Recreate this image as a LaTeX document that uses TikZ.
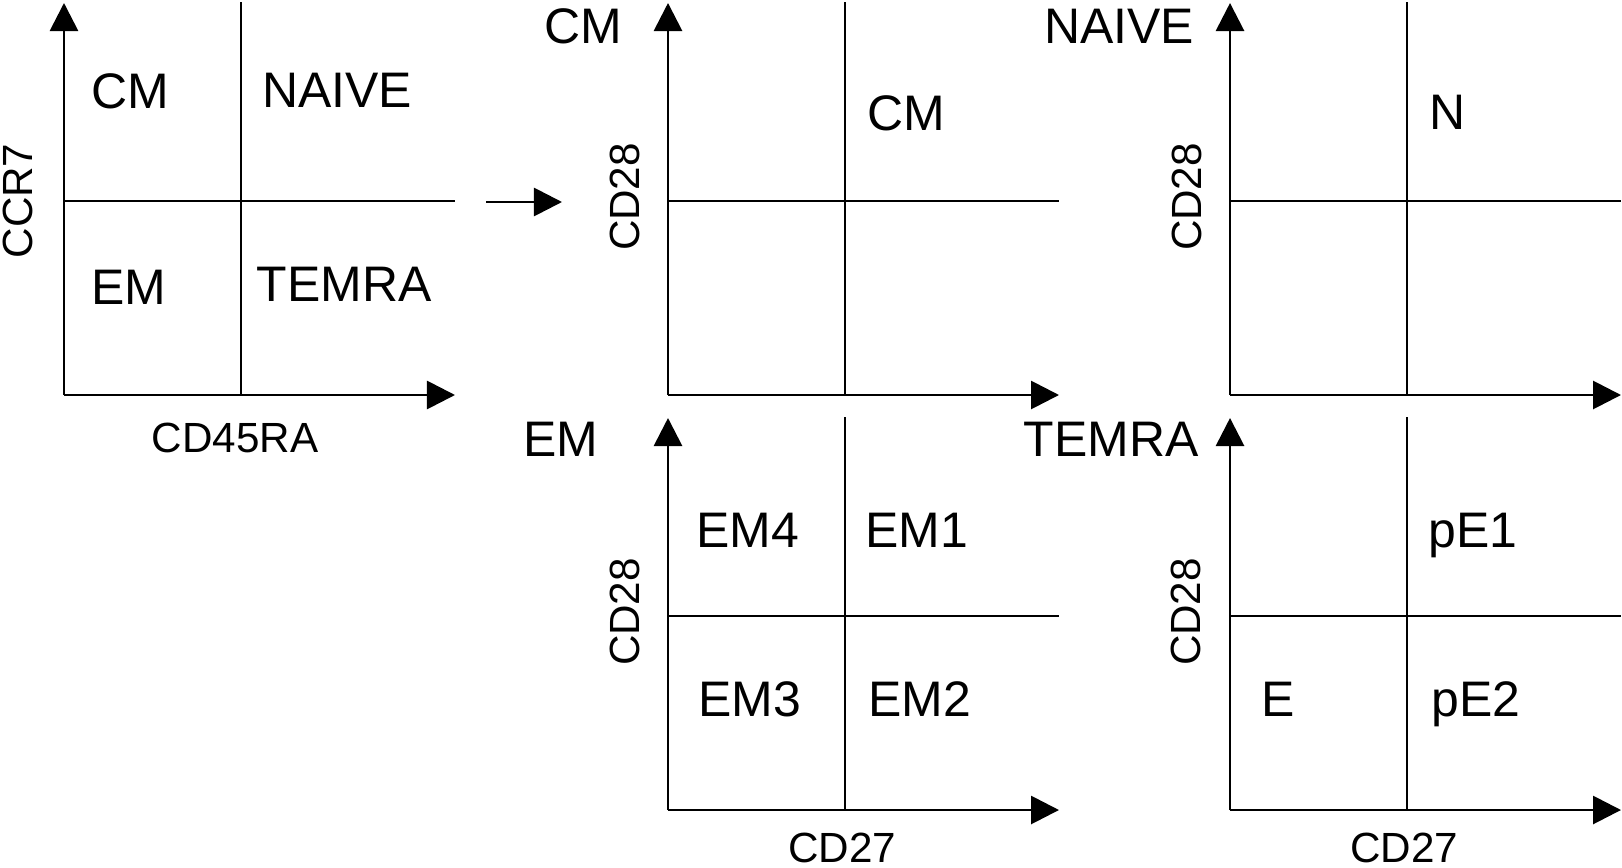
\documentclass[tikz,border=0pt]{standalone}
\usepackage{fontspec}
\setmainfont{Liberation Sans}
\usetikzlibrary{arrows.meta}

\tikzset{
  quad/.style={inner sep=0pt, text height=10.2pt, text depth=0pt, font=\fontsize{14.2}{17}\selectfont},
  axlab/.style={inner sep=0pt, text height=8.6pt, text depth=0pt, font=\fontsize{12}{14}\selectfont},
}

\begin{document}
\begin{tikzpicture}[x=0.01cm, y=-0.01cm, line width=0.8pt, >={Triangle[length=0.28cm,width=0.28cm]}]
        \useasboundingbox (0,0) rectangle (1622,867);
        % ejes y cuadrantes de cada panel
        \foreach \ox/\oy/\i in {64/395/1, 668/395/2, 1230/395/3, 668/810/4, 1230/810/5}{
          \coordinate (o\i) at (\ox,\oy);
          \draw[->] (o\i) -- ++(0,-392);
          \draw[->] (o\i) -- ++(391,0);
          \draw ({\ox+177},\oy) -- ({\ox+177},{\oy-393});
          \draw (\ox,{\oy-194}) -- ({\ox+391},{\oy-194});
        }
        % panel CCR7 / CD45RA
        \node[quad] (cm1) at (130,91) {CM};
        \node[quad] (naive1) at (337,90) {NAIVE};
        \node[quad] (em1) at (129,287) {EM};
        \node[quad] (temra1) at (344,284) {TEMRA};
        \node[axlab, rotate=90] (ccr7) at (17,201) {CCR7};
        \node[axlab] (cd45ra) at (235,437) {CD45RA};
        % flecha
        \coordinate (arrS) at (486,202);
        \coordinate (arrE) at (562,202);
        \draw[->] (arrS) -- (arrE);
        % panel CM
        \node[quad] (tcm) at (583,26) {CM};
        \node[axlab, rotate=90] (cd28a) at (624,197) {CD28};
        \node[quad] (cm2) at (906,113) {CM};
        % panel NAIVE
        \node[quad] (tnaive) at (1119,26) {NAIVE};
        \node[axlab, rotate=90] (cd28b) at (1186,197) {CD28};
        \node[quad] (n3) at (1448,112) {N};
        % panel EM
        \node[quad] (tem) at (561,439) {EM};
        \node[axlab, rotate=90] (cd28c) at (624,612) {CD28};
        \node[axlab] (cd27a) at (842,847) {CD27};
        \node[quad] (em4) at (748,530) {EM4};
        \node[quad] (em1b) at (917,530) {EM1};
        \node[quad] (em3) at (750,699) {EM3};
        \node[quad] (em2) at (920,699) {EM2};
        % panel TEMRA
        \node[quad] (ttemra) at (1111,439) {TEMRA};
        \node[axlab, rotate=90] (cd28d) at (1185,612) {CD28};
        \node[axlab] (cd27b) at (1404,847) {CD27};
        \node[quad] (pe1) at (1473,530) {pE1};
        \node[quad] (e5) at (1278,699) {E};
        \node[quad] (pe2) at (1476,699) {pE2};
\end{tikzpicture}
\end{document}
